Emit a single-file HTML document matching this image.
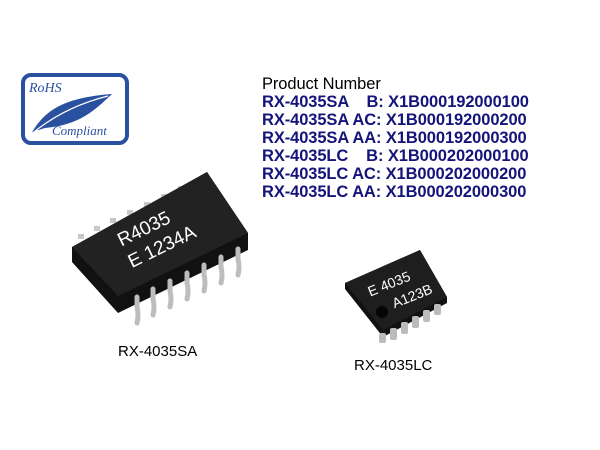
<!DOCTYPE html>
<html><head><style>
body{margin:0;width:600px;height:450px;background:#fff;position:relative;overflow:hidden;font-family:"Liberation Sans",Arial,sans-serif}
.t{position:absolute;left:262px;font-size:16.5px;line-height:18px;white-space:pre;letter-spacing:-0.1px}
.b{font-weight:bold;color:#14147a}
</style></head><body>
<svg width="600" height="450" style="position:absolute;left:0;top:0">
<rect x="23" y="75" width="104" height="68" rx="8" fill="#fff" stroke="#2a50a0" stroke-width="4"/>
<path d="M32 132 C45 112 60 98 112 94 C95 110 80 125 45 128 Z" fill="#2a50a0"/>
<path d="M34 132 C55 115 80 103 108 96" stroke="#fff" stroke-width="1.2" fill="none"/>
<text x="29" y="92" font-family="Liberation Serif" font-style="italic" font-size="14" fill="#2a50a0">RoHS</text>
<text x="52" y="135" font-family="Liberation Serif" font-style="italic" font-size="13" fill="#2a50a0">Compliant</text>
<g fill="#c8c8c8">
<rect x="78" y="234" width="6" height="5"/><rect x="94" y="226" width="6" height="5"/><rect x="110" y="218" width="6" height="5"/><rect x="127" y="210" width="6" height="5"/><rect x="144" y="202" width="6" height="5"/><rect x="161" y="194" width="6" height="5"/><rect x="178" y="186" width="6" height="5"/>
</g>
<polygon points="72,247 207,172 248,233 248,250 118,313 72,262" fill="#111"/>
<polygon points="72,247 207,172 248,233 118,296" fill="#222"/>
<g stroke="#bdbdbd" stroke-width="5" fill="none" stroke-linecap="round">
<path d="M137 297 v10 q2 8 0 16"/><path d="M153 289 v10 q2 8 0 16"/><path d="M170 281 v10 q2 8 0 16"/><path d="M187 273 v10 q2 8 0 16"/><path d="M204 265 v10 q2 8 0 16"/><path d="M221 257 v10 q2 8 0 16"/><path d="M238 249 v10 q2 8 0 16"/>
</g>
<g transform="rotate(-26 160 230)" fill="#fff" font-size="19">
<text x="118" y="228">R4035</text><text x="118" y="252">E 1234A</text></g>
<!-- LC chip -->
<polygon points="345,283 420,250 447,297 447,303 383,337 345,289" fill="#111"/>
<g fill="#bbb"><rect x="390" y="328" width="7" height="12" rx="2"/><rect x="401" y="322" width="7" height="12" rx="2"/><rect x="412" y="316" width="7" height="12" rx="2"/><rect x="423" y="310" width="7" height="12" rx="2"/><rect x="434" y="304" width="7" height="11" rx="2"/><rect x="379" y="333" width="7" height="10" rx="2"/></g>
<polygon points="345,283 420,250 447,297 383,330" fill="#1e1e1e"/>
<circle cx="382" cy="312" r="6" fill="#050505"/>
<g transform="rotate(-22 400 290)" fill="#fff" font-size="14">
<text x="370" y="285">E 4035</text><text x="388" y="305">A123B</text></g>
</svg>
<div class="t" style="top:75px">Product Number</div>
<div class="t b" style="top:93px">RX-4035SA    B: X1B000192000100</div>
<div class="t b" style="top:111px">RX-4035SA AC: X1B000192000200</div>
<div class="t b" style="top:129px">RX-4035SA AA: X1B000192000300</div>
<div class="t b" style="top:147px">RX-4035LC    B: X1B000202000100</div>
<div class="t b" style="top:165px">RX-4035LC AC: X1B000202000200</div>
<div class="t b" style="top:183px">RX-4035LC AA: X1B000202000300</div>
<div style="position:absolute;left:118px;top:343px;font-size:15px">RX-4035SA</div>
<div style="position:absolute;left:354px;top:357px;font-size:15px">RX-4035LC</div>
</body></html>
